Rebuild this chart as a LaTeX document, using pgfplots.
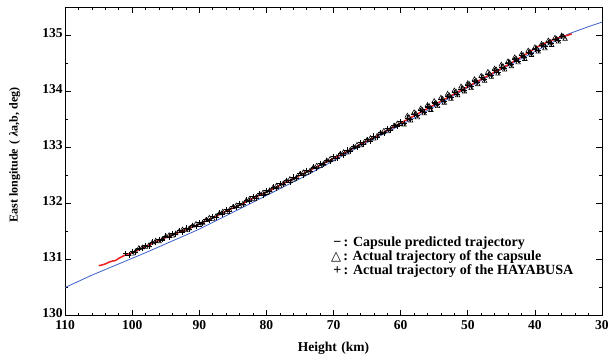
\documentclass[border=0pt]{standalone}
\usepackage{fontspec}
\setmainfont{Liberation Serif}
\newfontfamily\dejavu{DejaVu Sans}
\usepackage{pgfplots}
\pgfplotsset{compat=1.18}
\definecolor{bluel}{RGB}{60,95,200}
\definecolor{redl}{RGB}{235,30,30}
\begin{document}
\begin{tikzpicture}
\useasboundingbox (-65pt,-46pt) rectangle (545pt,315pt);
\begin{axis}[
  scale only axis, width=536pt, height=308pt,
  x dir=reverse, xmin=30, xmax=110, ymin=130, ymax=135.5,
  enlargelimits=false,
  xtick={30,40,...,110}, ytick={130,131,...,135},
  minor x tick num=4, minor y tick num=1,
  major tick length=5.5pt, minor tick length=3pt,
  tick style={black, line width=0.6pt},
  axis line style={black, line width=0.8pt},
  /pgf/number format/assume math mode=true,
  tick label style={font=\fontsize{13.5}{14}\selectfont\bfseries},
  xticklabel style={yshift=-1.5pt},
  yticklabel style={xshift=1pt, yshift=2pt},
  xlabel={Height\,\,(km)},
  ylabel={East longitude\,\,(\,\,\textit{λ}a,b, deg)},
  every axis x label/.style={at={(axis description cs:0.5,0)}, anchor=center, yshift=-33pt, font=\fontsize{13.5}{14}\selectfont\bfseries},
  every axis y label/.style={at={(axis description cs:-0.094,0.52)}, rotate=90, anchor=center, font=\fontsize{12}{13}\selectfont\bfseries},
]
\addplot[bluel, line width=0.8pt] coordinates {
(110,130.50) (106,130.72) (102,130.92) (98,131.12) (94,131.33) (90,131.54)
(86,131.78) (82,132.02) (78,132.26) (74,132.50) (70,132.76) (66,133.02)
(62,133.27) (58,133.52) (54,133.79) (50,134.06) (46,134.32) (42,134.58)
(38,134.83) (35,135.02) (32,135.15) (30,135.23)};
\addplot[redl, line width=1.5pt] coordinates {
(105.0,130.89) (104.5,130.90) (104.0,130.92) (103.5,130.95) (103.0,130.97) (102.5,130.98)
(102.0,131.02) (101.5,131.05) (101.0,131.08) (100,131.12) (98,131.23) (96,131.34)
(94,131.44) (92,131.53) (90,131.63) (88,131.74) (86,131.86) (84,131.97)
(82,132.09) (80,132.20) (78,132.32) (76,132.44) (74,132.56) (72,132.68)
(70,132.80) (68,132.92) (66,133.05) (64,133.17) (62,133.30) (60,133.43)
(58,133.56) (56,133.69) (54,133.82) (52,133.95) (50,134.08) (48,134.21)
(46,134.34) (44,134.47) (42,134.61) (40,134.76) (39,134.83) (38,134.88)
(37,134.93) (36,134.97) (35,135.00) (34.5,135.02)};
\addplot[only marks, mark=triangle, mark size=2.6pt, black, mark options={line width=0.6pt}] coordinates {
(100,131.10) (99,131.20) (98,131.22) (97,131.30) (96,131.32) (95,131.41) (94,131.42)
(93,131.50) (92,131.52) (91,131.60) (90,131.61) (89,131.70) (88,131.72) (87,131.82)
(86,131.84) (85,131.93) (84,131.95) (83,132.05) (82,132.07) (81,132.16) (80,132.18)
(79,132.28) (78,132.30) (77,132.40) (76,132.42) (75,132.52) (74,132.54) (73,132.64)
(72,132.66) (71,132.76) (70,132.78) (69,132.88) (68,132.90) (67,133.00) (66,133.03)
(65,133.13) (64,133.15) (63,133.25) (62,133.28) (61,133.38) (60,133.41)
(99.5,131.14) (98.5,131.21) (97.5,131.25) (96.5,131.33) (95.5,131.36) (94.5,131.43)
(93.5,131.46) (92.5,131.53) (91.5,131.55) (90.5,131.63) (89.5,131.65) (88.5,131.74)
(87.5,131.77) (86.5,131.85) (85.5,131.88) (84.5,131.96) (83.5,131.99) (82.5,132.08)
(81.5,132.11) (80.5,132.19) (79.5,132.23) (78.5,132.31) (77.5,132.35) (76.5,132.43)
(75.5,132.46) (74.5,132.55) (73.5,132.58) (72.5,132.67) (71.5,132.70) (70.5,132.79)
(69.5,132.82) (68.5,132.91) (67.5,132.95) (66.5,133.04) (65.5,133.07) (64.5,133.16)
(63.5,133.20) (62.5,133.29) (61.5,133.32) (60.5,133.42)
(59,133.56) (58,133.62) (57,133.69) (56,133.75) (55,133.82) (54,133.88) (53,133.95)
(52,134.01) (51,134.08) (50,134.14) (49,134.21) (48,134.27) (47,134.34) (46,134.40)
(45,134.47) (44,134.53) (43,134.60) (42,134.66) (41,134.72) (40,134.78) (39,134.84)
(38,134.90) (37,134.95) (36,134.99)
(59.5,133.40) (58.5,133.47) (57.5,133.53) (56.5,133.60) (55.5,133.66) (54.5,133.73)
(53.5,133.79) (52.5,133.86) (51.5,133.92) (50.5,133.99) (49.5,134.05) (48.5,134.12)
(47.5,134.18) (46.5,134.25) (45.5,134.31) (44.5,134.38) (43.5,134.44) (42.5,134.51)
(41.5,134.57) (40.5,134.64) (39.5,134.70) (38.5,134.76) (37.5,134.82) (36.5,134.88)
(35.5,134.93)
(58.75,133.53) (57.75,133.60) (56.75,133.66) (55.75,133.73) (54.75,133.79) (53.75,133.86)
(52.75,133.92) (51.75,133.99) (50.75,134.05) (49.75,134.12) (48.75,134.18) (47.75,134.25)
(46.75,134.31) (45.75,134.38) (44.75,134.44) (43.75,134.51) (42.75,134.57) (41.75,134.64)
(40.75,134.70) (39.75,134.76) (38.75,134.82) (37.75,134.88) (36.75,134.93) (35.75,134.97)};
\addplot[only marks, mark=+, mark size=2.6pt, black, mark options={line width=0.7pt}] coordinates {
(101.0,131.10) (100.5,131.08) (100.0,131.14) (99.5,131.13) (99.0,131.20) (98.5,131.19)
(98.0,131.25) (97.5,131.24) (97.0,131.31) (96.5,131.30) (96.0,131.36) (95.5,131.35)
(95.0,131.42) (94.5,131.40) (94.0,131.46) (93.5,131.45) (93.0,131.51) (92.5,131.49)
(92.0,131.56) (91.5,131.54) (91.0,131.61) (90.5,131.59) (90.0,131.66) (89.5,131.64)
(89.0,131.71) (88.5,131.69) (88.0,131.77) (87.5,131.75) (87.0,131.83) (86.5,131.81)
(86.0,131.89) (85.5,131.86) (85.0,131.94) (84.5,131.92) (84.0,132.00) (83.5,131.98)
(83.0,132.06) (82.5,132.04) (82.0,132.12) (81.5,132.09) (81.0,132.17) (80.5,132.15)
(80.0,132.23) (79.5,132.21) (79.0,132.29) (78.5,132.27) (78.0,132.35) (77.5,132.33)
(77.0,132.41) (76.5,132.38) (76.0,132.47) (75.5,132.45) (75.0,132.53) (74.5,132.50)
(74.0,132.59) (73.5,132.57) (73.0,132.65) (72.5,132.62) (72.0,132.71) (71.5,132.69)
(71.0,132.77) (70.5,132.74) (70.0,132.83) (69.5,132.81) (69.0,132.89) (68.5,132.86)
(68.0,132.95) (67.5,132.93) (67.0,133.01) (66.5,132.99) (66.0,133.08) (65.5,133.05)
(65.0,133.14) (64.5,133.11) (64.0,133.20) (63.5,133.18) (63.0,133.26) (62.5,133.24)
(62.0,133.33) (61.5,133.30) (61.0,133.39) (60.5,133.37) (60.0,133.46) (59.5,133.43)
(59.0,133.52) (58.5,133.50) (58.0,133.59) (57.5,133.56) (57.0,133.65) (56.5,133.63)
(56.0,133.72) (55.5,133.69) (55.0,133.78) (54.5,133.76) (54.0,133.85) (53.5,133.82)
(53.0,133.91) (52.5,133.89) (52.0,133.98) (51.5,133.95) (51.0,134.04) (50.5,134.02)
(50.0,134.11) (49.5,134.08) (49.0,134.17) (48.5,134.15) (48.0,134.24) (47.5,134.21)
(47.0,134.30) (46.5,134.28) (46.0,134.37) (45.5,134.34) (45.0,134.43) (44.5,134.41)
(44.0,134.50) (43.5,134.47) (43.0,134.56) (42.5,134.54) (42.0,134.63) (41.5,134.60)
(41.0,134.69) (40.5,134.67) (40.0,134.75) (39.5,134.73) (39.0,134.81) (38.5,134.79)
(38.0,134.87) (37.5,134.85) (37.0,134.92) (36.5,134.90) (36.0,134.97)};
\node[anchor=north west, inner sep=0pt, align=left, font=\fontsize{14}{12.5}\selectfont\bfseries] at (axis cs:70.4,131.40)
{\,−\,: Capsule predicted trajectory\\
{\dejavu\fontsize{13}{12.5}\selectfont △}\,: Actual trajectory of the capsule\\
\,+\,: Actual trajectory of the HAYABUSA};
\end{axis}
\end{tikzpicture}
\end{document}
